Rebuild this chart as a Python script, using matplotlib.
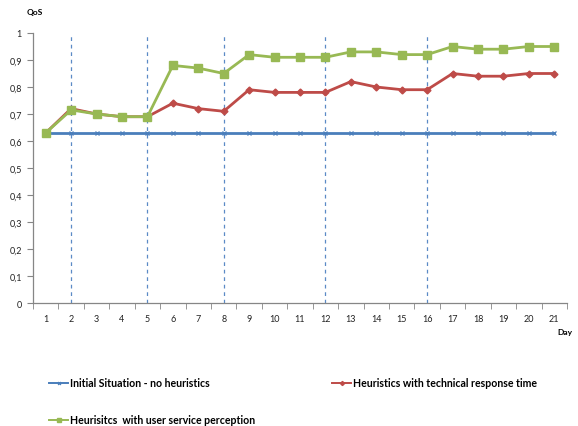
import matplotlib
matplotlib.use("Agg")
import matplotlib.pyplot as plt

plt.rcParams['font.family'] = ['Lato', 'DejaVu Sans']

days = list(range(1, 22))
initial = [0.63] * 21
technical = [0.63, 0.72, 0.70, 0.69, 0.69, 0.74, 0.72, 0.71, 0.79, 0.78, 0.78,
             0.78, 0.82, 0.80, 0.79, 0.79, 0.85, 0.84, 0.84, 0.85, 0.85]
perception = [0.63, 0.715, 0.70, 0.69, 0.69, 0.88, 0.87, 0.85, 0.92, 0.91, 0.91,
              0.91, 0.93, 0.93, 0.92, 0.92, 0.95, 0.94, 0.94, 0.95, 0.95]
change_days = [2, 5, 8, 12, 16]
y_ticks = [0, 0.1, 0.2, 0.3, 0.4, 0.5, 0.6, 0.7, 0.8, 0.9, 1]
y_labels = ["0", "0,1", "0,2", "0,3", "0,4", "0,5", "0,6", "0,7", "0,8", "0,9", "1"]
series_names = ["Initial Situation - no heuristics",
                "Heuristics with technical response time",
                "Heurisitcs  with user service perception"]

BLUE = "#4a7ebb"
RED = "#be4b48"
GREEN = "#98b954"
AXIS = "#868686"

fig = plt.figure(figsize=(5.78, 4.27), dpi=100)
ax = fig.add_axes([33 / 578, 123 / 427, 534 / 578, 270 / 427])

for d in change_days:
    ax.axvline(d, ymin=0, ymax=1, color="#5b8ac6", lw=0.9, ls=(0, (3, 3)), zorder=1)

l_init, = ax.plot(days, initial, color=BLUE, lw=2.0, marker="x", ms=3.5,
                  mew=0.9, zorder=3)
l_tech, = ax.plot(days, technical, color=RED, lw=2.0, marker="D", ms=3.5,
                  zorder=4)
l_perc, = ax.plot(days, perception, color=GREEN, lw=2.0, marker="s", ms=5.5,
                  zorder=5)

ax.set_xlim(0.5, 21.5)
ax.set_ylim(0, 1)
ax.set_yticks(y_ticks)
ax.set_yticklabels(y_labels)
ax.set_xticks(days)
ax.set_xticklabels([str(d) for d in days])
ax.set_xticks([d + 0.5 for d in [0] + days], minor=True)
ax.tick_params(axis="x", which="major", length=0, pad=8, labelsize=6.5,
               colors="#222222")
ax.tick_params(axis="x", which="minor", length=4, direction="out", color=AXIS)
ax.tick_params(axis="y", length=4, direction="out", color=AXIS, labelsize=6.5,
               colors="#222222", pad=4)
for s in ["top", "right"]:
    ax.spines[s].set_visible(False)
for s in ["left", "bottom"]:
    ax.spines[s].set_color(AXIS)
    ax.spines[s].set_linewidth(0.9)

fig.text(27 / 578, 1 - 12 / 427, "QoS", fontsize=6, fontweight="bold",
         ha="left", va="center")
fig.text(565 / 578, 1 - 333 / 427, "Day", fontsize=6, fontweight="bold",
         ha="center", va="center")

legend_spots = [(l_init, series_names[0], 49, 384),
                (l_tech, series_names[1], 332, 384),
                (l_perc, series_names[2], 49, 421)]
for handle, name, px, py in legend_spots:
    leg = fig.legend([handle], [name], loc="center left",
                     bbox_to_anchor=(px / 578, 1 - py / 427), frameon=False,
                     handlelength=1.8, handletextpad=0.15, borderpad=0,
                     borderaxespad=0, markerscale=0.6,
                     prop={"size": 7.6, "weight": "bold"})
    for ln in leg.get_lines():
        ln.set_linewidth(1.4)

fig.savefig("out.png", dpi=100)
